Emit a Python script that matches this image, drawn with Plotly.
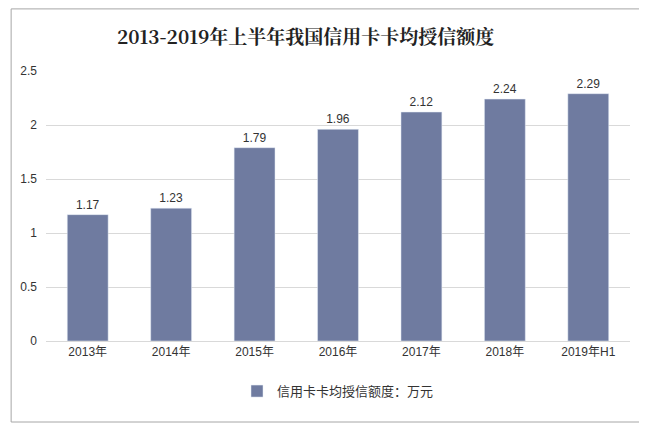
import plotly.graph_objects as go

years = ['2013年', '2014年', '2015年', '2016年', '2017年', '2018年', '2019年H1']
limits = [1.17, 1.23, 1.79, 1.96, 2.12, 2.24, 2.29]

fig = go.Figure(
    data=go.Bar(
        x=years, y=limits,
        name='信用卡卡均授信额度：万元',
        marker_color='#6F7BA0',
        text=[f'{v:.2f}' for v in limits],
        textposition='outside',
        textfont={'size': 12, 'color': '#333'},
        width=0.49,
        cliponaxis=False,
        showlegend=True,
    ),
    layout={
        'width': 647, 'height': 426,
        # page is offset ~8px by the body margin, so shift the plot up/left
        'margin': {'l': 36, 'r': 25, 't': 63, 'b': 93},
        'paper_bgcolor': 'white', 'plot_bgcolor': 'white',
        'font': {'family': 'Liberation Sans, Arial, Noto Sans CJK SC, sans-serif', 'size': 12, 'color': '#333'},
        'title': {
            'text': '<b>2013-2019年上半年我国信用卡卡均授信额度</b>',
            'x': 0.46, 'y': 0.93, 'xanchor': 'center', 'yanchor': 'middle',
            'font': {'family': 'Noto Serif CJK SC, Liberation Serif, serif', 'size': 19, 'color': '#222'},
        },
        'yaxis': {'range': [0, 2.5], 'dtick': 0.5, 'gridcolor': '#D9D9D9',
                  'zeroline': False, 'tickfont': {'size': 12}, 'ticklabelstandoff': 8},
        'xaxis': {'showline': True, 'linecolor': '#D9D9D9', 'tickfont': {'size': 12}},
        'legend': {'orientation': 'h', 'x': 0.5, 'xanchor': 'center', 'y': -0.13,
                   'yanchor': 'top', 'font': {'size': 13}},
        'shapes': [{'type': 'rect', 'xref': 'paper', 'yref': 'paper',
                    'x0': -0.0597, 'x1': 1.024, 'y0': -0.3, 'y1': 1.23,
                    'line': {'color': '#A6A6A6', 'width': 1}}],
    },
)
fig.write_html('out.html')
